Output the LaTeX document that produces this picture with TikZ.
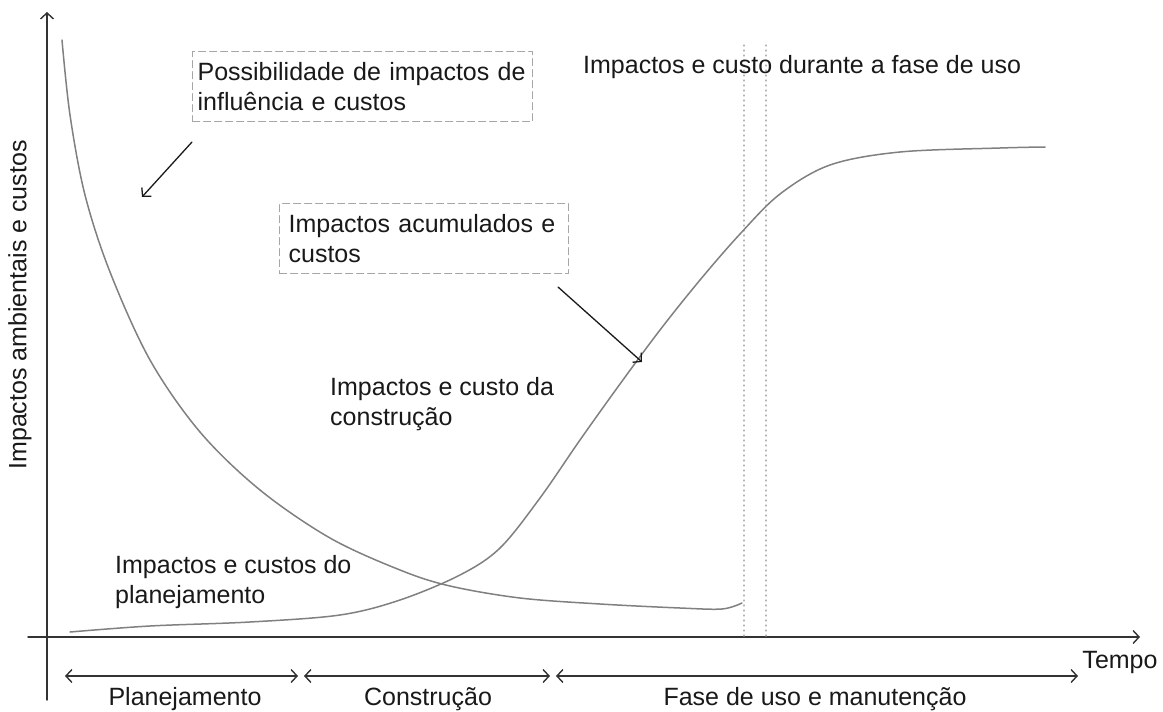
\documentclass[tikz,border=0pt]{standalone}
\usepackage{fontspec}
\setmainfont{Liberation Sans}
\usetikzlibrary{arrows.meta}

\begin{document}
\begin{tikzpicture}[line cap=round,line join=round,>={Straight Barb[length=6pt,width=13pt]},x=1pt,y=-1pt,
    every node/.style={font=\fontsize{25}{30}\selectfont, inner sep=0pt, text=black!90},
    axis/.style={line width=1.4pt, black!80},
    curve/.style={line width=1.5pt, black!50},
    guide/.style={line width=1.1pt, black!30, dash pattern=on 1pt off 4pt},
    note/.style={draw=black!35, line width=1.2pt, dash pattern=on 7pt off 4pt, align=left, minimum height=70pt, anchor=north west},
    pointer/.style={->, line width=1.3pt, black!90}]
    \useasboundingbox (0,0) rectangle (1163,712);

    % axes
    \coordinate (ybot) at (47,700);
    \coordinate (ytop) at (47,12);
    \coordinate (xleft) at (28,637);
    \coordinate (xend) at (1140,637);
    \draw [axis,->] (ybot) -- (ytop);
    \draw [axis,->] (xleft) -- (xend);
    \node (tempo) at (1120,662) {Tempo};
    \node [rotate=90] (ylabel) at (20,305) {Impactos ambientais e custos};

    % fases
    \coordinate (t0) at (65,676);
    \coordinate (t1) at (298,676);
    \coordinate (t2) at (304,676);
    \coordinate (t3) at (550,676);
    \coordinate (t4) at (556,676);
    \coordinate (t5) at (1078,676);
    \draw [axis,<->] (t0) -- (t1);
    \draw [axis,<->] (t2) -- (t3);
    \draw [axis,<->] (t4) -- (t5);
    \node (plan) at (185,699) {Planejamento};
    \node (constr) at (428,699) {Construção};
    \node (uso) at (815,699) {Fase de uso e manutenção};

    % limites da fase de uso
    \draw [guide] (744,45) -- (744,637);
    \draw [guide] (766,45) -- (766,637);

    % curvas
    \draw [curve] plot[smooth, tension=0.55] coordinates {(62,40) (70,115) (85,195) (110,272) (150,360) (200,432) (260,490) (330,538) (400,570) (450,586) (520,598) (600,604) (680,608) (722,609) (742,603)};
    \draw [curve] plot[smooth, tension=0.55] coordinates {(70,632) (150,626) (250,622) (340,615) (400,600) (460,575) (500,548) (540,498) (580,440) (620,384) (660,330) (700,280) (740,234) (780,194) (830,165) (900,152) (1000,148) (1045,147)};

    % textos
    \node [note, minimum width=340pt, inner xsep=5pt, text width=330pt] (possib) at (192,51) {Possibilidade de impactos de\\influência e custos};
    \node [note, minimum width=289pt, inner xsep=9pt, text width=271pt] (acum) at (279,203) {Impactos acumulados e\\custos};
    \node [anchor=west] (durante) at (583,67) {Impactos e custo durante a fase de uso};
    \node [anchor=west, align=left] (construcao) at (330,404) {Impactos e custo da\\construção};
    \node [anchor=west, align=left] (planej) at (115,582) {Impactos e custos do\\planejamento};

    % setas
    \coordinate (p1) at (192,142);
    \coordinate (p2) at (142,197);
    \coordinate (q1) at (558,287);
    \coordinate (q2) at (642,362);
    \draw [pointer] (p1) -- (p2);
    \draw [pointer] (q1) -- (q2);
\end{tikzpicture}
\end{document}
